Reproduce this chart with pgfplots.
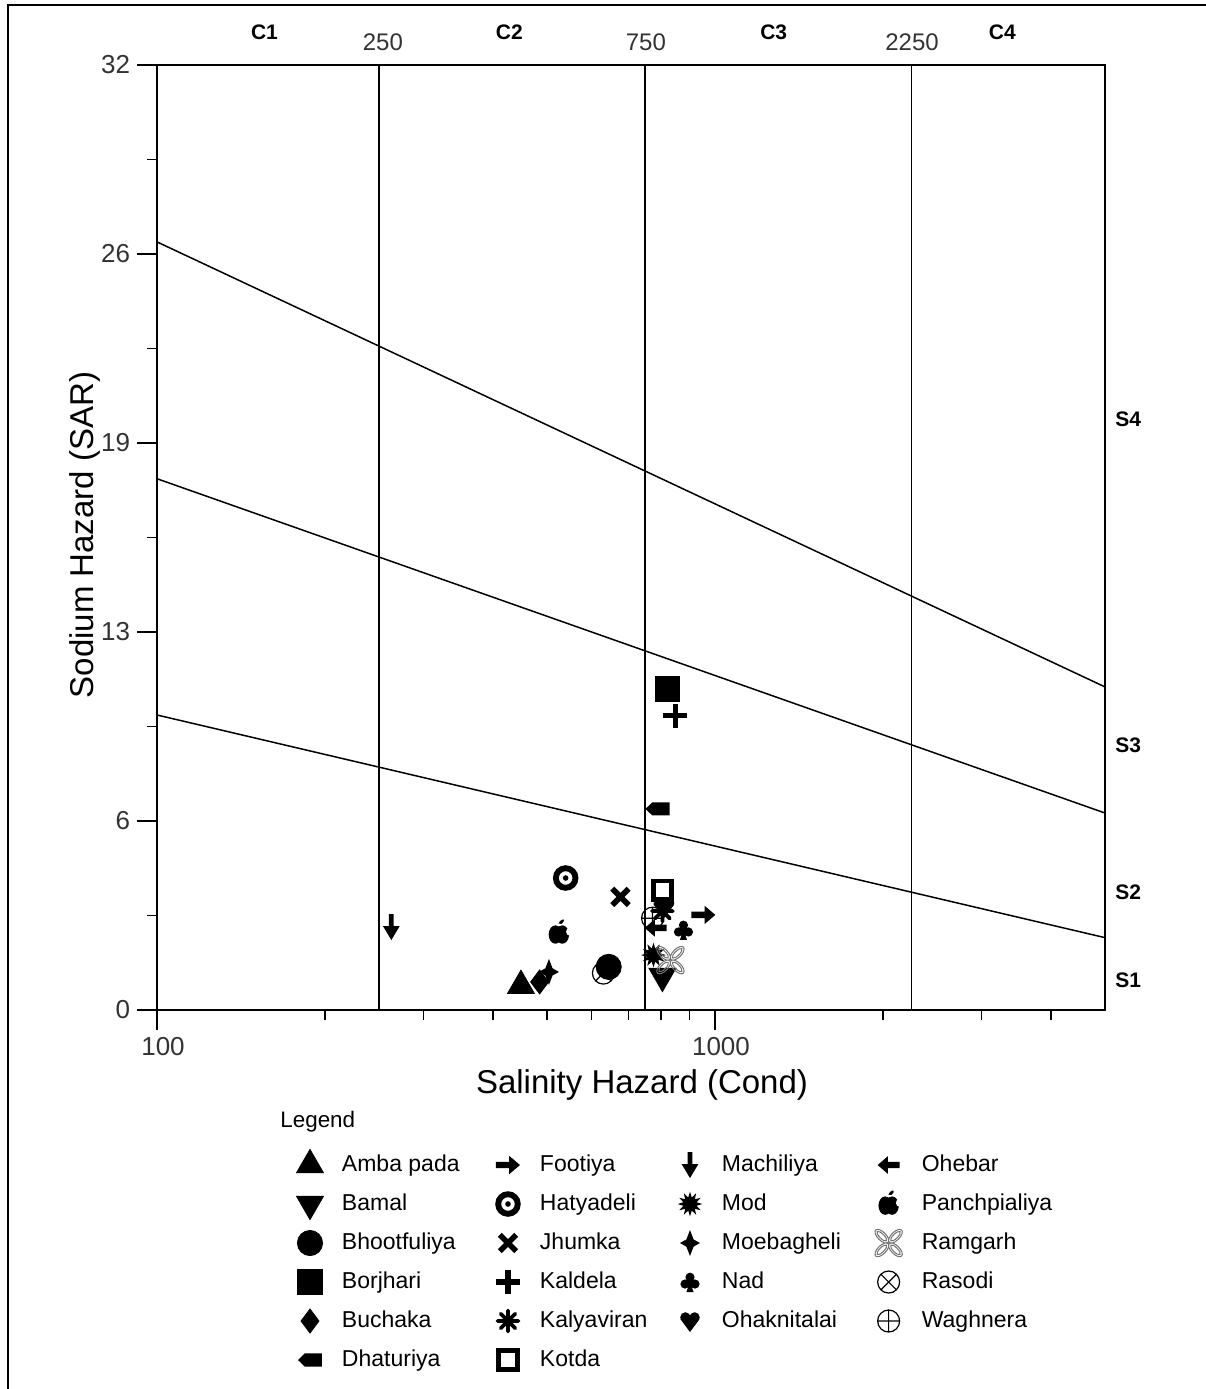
\documentclass[border=0pt]{standalone}
\usepackage{pgfplots}
\pgfplotsset{compat=1.18}
\usepackage{fontspec}
\setmainfont{Liberation Sans}

\pgfdeclareplotmark{rarrow}{%
  \pgfpathmoveto{\pgfpoint{-6pt}{1.6pt}}%
  \pgfpathlineto{\pgfpoint{0.6pt}{1.6pt}}%
  \pgfpathlineto{\pgfpoint{0.6pt}{4.6pt}}%
  \pgfpathlineto{\pgfpoint{6pt}{0pt}}%
  \pgfpathlineto{\pgfpoint{0.6pt}{-4.6pt}}%
  \pgfpathlineto{\pgfpoint{0.6pt}{-1.6pt}}%
  \pgfpathlineto{\pgfpoint{-6pt}{-1.6pt}}%
  \pgfpathclose\pgfusepathqfill}
\pgfdeclareplotmark{larrow}{%
  \pgfpathmoveto{\pgfpoint{5.5pt}{1.6pt}}%
  \pgfpathlineto{\pgfpoint{-0.4pt}{1.6pt}}%
  \pgfpathlineto{\pgfpoint{-0.4pt}{4.4pt}}%
  \pgfpathlineto{\pgfpoint{-5.5pt}{0pt}}%
  \pgfpathlineto{\pgfpoint{-0.4pt}{-4.4pt}}%
  \pgfpathlineto{\pgfpoint{-0.4pt}{-1.6pt}}%
  \pgfpathlineto{\pgfpoint{5.5pt}{-1.6pt}}%
  \pgfpathclose\pgfusepathqfill}
\pgfdeclareplotmark{darrow}{%
  \pgfpathmoveto{\pgfpoint{-1.2pt}{6.5pt}}%
  \pgfpathlineto{\pgfpoint{1.2pt}{6.5pt}}%
  \pgfpathlineto{\pgfpoint{1.2pt}{0.5pt}}%
  \pgfpathlineto{\pgfpoint{4.2pt}{0.5pt}}%
  \pgfpathlineto{\pgfpoint{0pt}{-6.5pt}}%
  \pgfpathlineto{\pgfpoint{-4.2pt}{0.5pt}}%
  \pgfpathlineto{\pgfpoint{-1.2pt}{0.5pt}}%
  \pgfpathclose\pgfusepathqfill}
\pgfdeclareplotmark{tag}{%
  \pgfpathmoveto{\pgfpoint{-6pt}{0pt}}%
  \pgfpathlineto{\pgfpoint{-2.6pt}{3.3pt}}%
  \pgfpathlineto{\pgfpoint{6pt}{3.3pt}}%
  \pgfpathlineto{\pgfpoint{6pt}{-3.3pt}}%
  \pgfpathlineto{\pgfpoint{-2.6pt}{-3.3pt}}%
  \pgfpathclose\pgfusepathqfill}
\pgfdeclareplotmark{bullseye}{%
  \pgfscope
  \pgfpathcircle{\pgfpointorigin}{6.4pt}%
  \pgfpathcircle{\pgfpointorigin}{3.4pt}%
  \pgfpathcircle{\pgfpointorigin}{1.4pt}%
  \pgfseteorule\pgfusepathqfill
  \endpgfscope}
\pgfdeclareplotmark{heavyx}{%
  \pgfscope\pgfsetlinewidth{2.8pt}\pgfsetbuttcap
  \pgfpathmoveto{\pgfpoint{-4.1pt}{-4.1pt}}\pgfpathlineto{\pgfpoint{4.1pt}{4.1pt}}%
  \pgfpathmoveto{\pgfpoint{-4.1pt}{4.1pt}}\pgfpathlineto{\pgfpoint{4.1pt}{-4.1pt}}%
  \pgfusepathqstroke\endpgfscope}
\pgfdeclareplotmark{heavyplus}{%
  \pgfscope\pgfsetlinewidth{2.6pt}\pgfsetbuttcap
  \pgfpathmoveto{\pgfpoint{-6pt}{0pt}}\pgfpathlineto{\pgfpoint{6pt}{0pt}}%
  \pgfpathmoveto{\pgfpoint{0pt}{-6pt}}\pgfpathlineto{\pgfpoint{0pt}{6pt}}%
  \pgfusepathqstroke\endpgfscope}
\pgfdeclareplotmark{hast}{%
  \pgfscope\pgfsetlinewidth{1.9pt}\pgfsetroundcap
  \pgfpathmoveto{\pgfpointpolar{0}{5.2pt}}\pgfpathlineto{\pgfpointpolar{180}{5.2pt}}%
  \pgfpathmoveto{\pgfpointpolar{45}{5.2pt}}\pgfpathlineto{\pgfpointpolar{225}{5.2pt}}%
  \pgfpathmoveto{\pgfpointpolar{90}{5.2pt}}\pgfpathlineto{\pgfpointpolar{270}{5.2pt}}%
  \pgfpathmoveto{\pgfpointpolar{135}{5.2pt}}\pgfpathlineto{\pgfpointpolar{315}{5.2pt}}%
  \pgfusepathqstroke
  \pgfpathcircle{\pgfpointorigin}{2.2pt}\pgfusepathqfill
  \endpgfscope}
\pgfdeclareplotmark{osq}{%
  \pgfscope\pgfsetlinewidth{2.4pt}\pgfsetfillcolor{white}\pgfsetmiterjoin
  \pgfpathrectanglecorners{\pgfpoint{-4.6pt}{-4.6pt}}{\pgfpoint{4.6pt}{4.6pt}}%
  \pgfusepathqfillstroke\endpgfscope}
\def\bl#1#2{\pgfpathlineto{\pgfpointpolar{#1}{#2}}}
\pgfdeclareplotmark{burst}{%
  \pgfpathmoveto{\pgfpointpolar{0}{6.2pt}}%
  \bl{15}{3.4pt}\bl{30}{6.2pt}\bl{45}{3.4pt}\bl{60}{6.2pt}\bl{75}{3.4pt}%
  \bl{90}{6.2pt}\bl{105}{3.4pt}\bl{120}{6.2pt}\bl{135}{3.4pt}\bl{150}{6.2pt}%
  \bl{165}{3.4pt}\bl{180}{6.2pt}\bl{195}{3.4pt}\bl{210}{6.2pt}\bl{225}{3.4pt}%
  \bl{240}{6.2pt}\bl{255}{3.4pt}\bl{270}{6.2pt}\bl{285}{3.4pt}\bl{300}{6.2pt}%
  \bl{315}{3.4pt}\bl{330}{6.2pt}\bl{345}{3.4pt}%
  \pgfpathclose\pgfusepathqfill}
\pgfdeclareplotmark{star4}{%
  \pgfpathmoveto{\pgfpoint{0pt}{6.5pt}}%
  \pgfpathlineto{\pgfpoint{1.8pt}{1.8pt}}%
  \pgfpathlineto{\pgfpoint{5pt}{0pt}}%
  \pgfpathlineto{\pgfpoint{1.8pt}{-1.8pt}}%
  \pgfpathlineto{\pgfpoint{0pt}{-6.5pt}}%
  \pgfpathlineto{\pgfpoint{-1.8pt}{-1.8pt}}%
  \pgfpathlineto{\pgfpoint{-5pt}{0pt}}%
  \pgfpathlineto{\pgfpoint{-1.8pt}{1.8pt}}%
  \pgfpathclose\pgfusepathqfill}
\pgfdeclareplotmark{club}{%
  \pgfpathcircle{\pgfpoint{0pt}{2.4pt}}{2.3pt}%
  \pgfpathcircle{\pgfpoint{-2.5pt}{-1pt}}{2.3pt}%
  \pgfpathcircle{\pgfpoint{2.5pt}{-1pt}}{2.3pt}%
  \pgfpathcircle{\pgfpoint{0pt}{0.2pt}}{1.6pt}%
  \pgfpathmoveto{\pgfpoint{0pt}{0pt}}\pgfpathlineto{\pgfpoint{-1.8pt}{-5pt}}%
  \pgfpathlineto{\pgfpoint{1.8pt}{-5pt}}\pgfpathclose
  \pgfusepathqfill}
\pgfdeclareplotmark{heart}{%
  \pgfpathcircle{\pgfpoint{-2.3pt}{1.8pt}}{2.6pt}%
  \pgfpathcircle{\pgfpoint{2.3pt}{1.8pt}}{2.6pt}%
  \pgfpathmoveto{\pgfpoint{-4.75pt}{0.9pt}}\pgfpathlineto{\pgfpoint{0pt}{-5.5pt}}%
  \pgfpathlineto{\pgfpoint{4.75pt}{0.9pt}}\pgfpathlineto{\pgfpoint{0pt}{3pt}}\pgfpathclose
  \pgfusepathqfill}
\pgfdeclareplotmark{apple}{%
  \pgfscope
  \pgfpathellipse{\pgfpoint{-1.7pt}{-0.8pt}}{\pgfpoint{3.4pt}{0pt}}{\pgfpoint{0pt}{4.6pt}}%
  \pgfpathellipse{\pgfpoint{1.7pt}{-0.8pt}}{\pgfpoint{3.4pt}{0pt}}{\pgfpoint{0pt}{4.6pt}}%
  \pgfpathellipse{\pgfpoint{1.2pt}{5.4pt}}{\pgfpoint{1.3pt}{1.3pt}}{\pgfpoint{-0.55pt}{0.55pt}}%
  \pgfusepathqfill
  \pgfsetfillcolor{white}%
  \pgfpathcircle{\pgfpoint{5.6pt}{0.6pt}}{2pt}\pgfusepathqfill
  \pgfpathellipse{\pgfpoint{0pt}{4.1pt}}{\pgfpoint{1.2pt}{0pt}}{\pgfpoint{0pt}{0.6pt}}\pgfusepathqfill
  \endpgfscope}
\pgfdeclareplotmark{flower}{%
  \pgfscope\pgfsetlinewidth{0.5pt}\pgfsetstrokecolor{black!55}%
  \pgfpathellipse{\pgfpoint{3.4pt}{3.4pt}}{\pgfpoint{3.1pt}{3.1pt}}{\pgfpoint{-1.5pt}{1.5pt}}%
  \pgfpathellipse{\pgfpoint{-3.4pt}{-3.4pt}}{\pgfpoint{3.1pt}{3.1pt}}{\pgfpoint{-1.5pt}{1.5pt}}%
  \pgfpathellipse{\pgfpoint{-3.4pt}{3.4pt}}{\pgfpoint{-3.1pt}{3.1pt}}{\pgfpoint{-1.5pt}{-1.5pt}}%
  \pgfpathellipse{\pgfpoint{3.4pt}{-3.4pt}}{\pgfpoint{-3.1pt}{3.1pt}}{\pgfpoint{-1.5pt}{-1.5pt}}%
  \pgfpathellipse{\pgfpoint{3.4pt}{3.4pt}}{\pgfpoint{2.3pt}{2.3pt}}{\pgfpoint{-0.8pt}{0.8pt}}%
  \pgfpathellipse{\pgfpoint{-3.4pt}{-3.4pt}}{\pgfpoint{2.3pt}{2.3pt}}{\pgfpoint{-0.8pt}{0.8pt}}%
  \pgfpathellipse{\pgfpoint{-3.4pt}{3.4pt}}{\pgfpoint{-2.3pt}{2.3pt}}{\pgfpoint{-0.8pt}{-0.8pt}}%
  \pgfpathellipse{\pgfpoint{3.4pt}{-3.4pt}}{\pgfpoint{-2.3pt}{2.3pt}}{\pgfpoint{-0.8pt}{-0.8pt}}%
  \pgfusepathqstroke\endpgfscope}
\pgfdeclareplotmark{otimes}{%
  \pgfscope\pgfsetlinewidth{0.6pt}%
  \pgfpathcircle{\pgfpointorigin}{5.5pt}%
  \pgfpathmoveto{\pgfpointpolar{45}{5.5pt}}\pgfpathlineto{\pgfpointpolar{225}{5.5pt}}%
  \pgfpathmoveto{\pgfpointpolar{135}{5.5pt}}\pgfpathlineto{\pgfpointpolar{315}{5.5pt}}%
  \pgfusepathqstroke\endpgfscope}
\pgfdeclareplotmark{oplus}{%
  \pgfscope\pgfsetlinewidth{0.6pt}%
  \pgfpathcircle{\pgfpointorigin}{5.5pt}%
  \pgfpathmoveto{\pgfpoint{-5.5pt}{0pt}}\pgfpathlineto{\pgfpoint{5.5pt}{0pt}}%
  \pgfpathmoveto{\pgfpoint{0pt}{-5.5pt}}\pgfpathlineto{\pgfpoint{0pt}{5.5pt}}%
  \pgfusepathqstroke\endpgfscope}

\newcommand\lgent[2]{\addlegendentry{\makebox[#1][l]{\hspace*{9pt}#2}}}

\begin{document}
\begin{tikzpicture}
\path[use as bounding box] (-78.5pt,-189.5pt) rectangle (524.5pt,505pt);
\begin{axis}[
  at={(0,0)}, anchor=south west,
  scale only axis, width=474pt, height=472.5pt,
  xmode=log, xmin=100, xmax=5000, ymin=0, ymax=32,
  axis line style={line width=0.9pt},
  xtick={100,1000}, xticklabels={100,1000},
  minor xtick={200,300,400,500,600,700,800,900,2000,3000,4000},
  ytick={0,6.4,12.8,19.2,25.6,32}, yticklabels={0,6,13,19,26,32},
  minor ytick={3.2,9.6,16,22.4,28.8},
  tick align=outside, tick pos=left,
  major tick length=10pt, minor tick length=5pt,
  every tick/.style={black, line width=0.7pt},
  /pgf/number format/assume math mode=true,
  tick label style={font=\fontsize{13}{13}\selectfont, text=black!80},
  xticklabel style={xshift=3pt},
  xlabel={Salinity Hazard (Cond)}, ylabel={Sodium Hazard (SAR)},
  label style={font=\fontsize{16.5}{16.5}\selectfont},
  xlabel style={at={(axis description cs:0.5116,-0.0794)}, anchor=center},
  ylabel style={at={(axis description cs:-0.076,0.5026)}, anchor=center},
  clip=false,
  legend columns=6, transpose legend,
  legend image code/.code={\draw[#1] plot coordinates {(0pt,0pt)}; \path[draw=none,fill=none] (-7pt,-9.75pt) rectangle (7pt,9.75pt);},
  legend style={at={(axis description cs:0.1466,-0.1434)}, anchor=north west,
    draw=none, fill=none, inner sep=0pt, outer sep=0pt, row sep=0pt, column sep=0pt,
    nodes={inner sep=0pt, anchor=west}, font=\fontsize{11.5}{13}\selectfont},
]
% class boundaries
\addplot[black, line width=0.75pt, forget plot] coordinates {(250,0) (250,32)};
\addplot[black, line width=0.75pt, forget plot] coordinates {(750,0) (750,32)};
\addplot[black, line width=0.75pt, forget plot] coordinates {(2250,0) (2250,32)};
\addplot[black, line width=0.75pt, forget plot] coordinates {(100,9.99) (5000,2.45)};
\addplot[black, line width=0.75pt, forget plot] coordinates {(100,17.99) (5000,6.67)};
\addplot[black, line width=0.75pt, forget plot] coordinates {(100,26.01) (5000,10.94)};

\addplot[only marks, black, mark=triangle*, mark size=7.8pt] coordinates {(449,0.82)}; \lgent{85pt}{Amba pada}
\addplot[only marks, black, mark=triangle*, mark size=7.8pt, mark options={rotate=180}] coordinates {(805,1.15)}; \lgent{85pt}{Bamal}
\addplot[only marks, black, mark=*, mark size=6.3pt] coordinates {(645,1.46)}; \lgent{85pt}{Bhootfuliya}
\addplot[only marks, black, mark=square*, mark size=6.2pt] coordinates {(822,10.87)}; \lgent{85pt}{Borjhari}
\addplot[only marks, black, mark=diamond*, mark size=6pt] coordinates {(485,0.95)}; \lgent{85pt}{Buchaka}
\addplot[only marks, black, mark=tag] coordinates {(789,6.81)}; \lgent{85pt}{Dhaturiya}
\addplot[only marks, black, mark=rarrow] coordinates {(953,3.22)}; \lgent{77pt}{Footiya}
\addplot[only marks, black, mark=bullseye] coordinates {(540,4.47)}; \lgent{77pt}{Hatyadeli}
\addplot[only marks, black, mark=heavyx] coordinates {(677,3.83)}; \lgent{77pt}{Jhumka}
\addplot[only marks, black, mark=heavyplus] coordinates {(849,9.96)}; \lgent{77pt}{Kaldela}
\addplot[only marks, black, mark=hast] coordinates {(805,3.35)}; \lgent{77pt}{Kalyaviran}
\addplot[only marks, black, mark=osq] coordinates {(805,4.06)}; \lgent{77pt}{Kotda}
\addplot[only marks, black, mark=darrow] coordinates {(263,2.81)}; \lgent{85pt}{Machiliya}
\addplot[only marks, black, mark=burst] coordinates {(776,1.86)}; \lgent{85pt}{Mod}
\addplot[only marks, black, mark=star4] coordinates {(504,1.29)}; \lgent{85pt}{Moebagheli}
\addplot[only marks, black, mark=club] coordinates {(878,2.71)}; \lgent{85pt}{Nad}
\addplot[only marks, black, mark=heart] coordinates {(812,3.5)}; \lgent{85pt}{Ohaknitalai}
\addlegendimage{empty legend}\addlegendentry{}
\addplot[only marks, black, mark=larrow] coordinates {(783,2.78)}; \lgent{80pt}{Ohebar}
\addplot[only marks, black, mark=apple] coordinates {(525,2.61)}; \lgent{80pt}{Panchpialiya}
\addplot[only marks, black, mark=flower] coordinates {(832,1.69)}; \lgent{80pt}{Ramgarh}
\addplot[only marks, black, mark=otimes] coordinates {(631,1.25)}; \lgent{80pt}{Rasodi}
\addplot[only marks, black, mark=oplus] coordinates {(773,3.11)}; \lgent{80pt}{Waghnera}

% class labels
\node[font=\bfseries\fontsize{10.5}{10.5}\selectfont] at (axis cs:155.8,33.12) {C1};
\node[font=\bfseries\fontsize{10.5}{10.5}\selectfont] at (axis cs:428,33.12) {C2};
\node[font=\bfseries\fontsize{10.5}{10.5}\selectfont] at (axis cs:1274,33.12) {C3};
\node[font=\bfseries\fontsize{10.5}{10.5}\selectfont] at (axis cs:3273,33.12) {C4};
\node[font=\fontsize{12}{12}\selectfont, text=black!80] at (axis cs:254,32.78) {250};
\node[font=\fontsize{12}{12}\selectfont, text=black!80] at (axis cs:752,32.78) {750};
\node[font=\fontsize{12}{12}\selectfont, text=black!80] at (axis cs:2255,32.78) {2250};
\node[font=\bfseries\fontsize{10.5}{10.5}\selectfont] at (axis cs:5500,20.0) {S4};
\node[font=\bfseries\fontsize{10.5}{10.5}\selectfont] at (axis cs:5500,8.97) {S3};
\node[font=\bfseries\fontsize{10.5}{10.5}\selectfont] at (axis cs:5500,4.0) {S2};
\node[font=\bfseries\fontsize{10.5}{10.5}\selectfont] at (axis cs:5500,1.02) {S1};
\end{axis}
\node[anchor=west, inner sep=0pt, font=\fontsize{11.2}{11.2}\selectfont] at (61.5pt,-56pt) {Legend};
\draw[line width=1pt] (-74.5pt,-189.5pt) -- (-74.5pt,502.5pt) -- (524.5pt,502.5pt);
\end{tikzpicture}
\end{document}
